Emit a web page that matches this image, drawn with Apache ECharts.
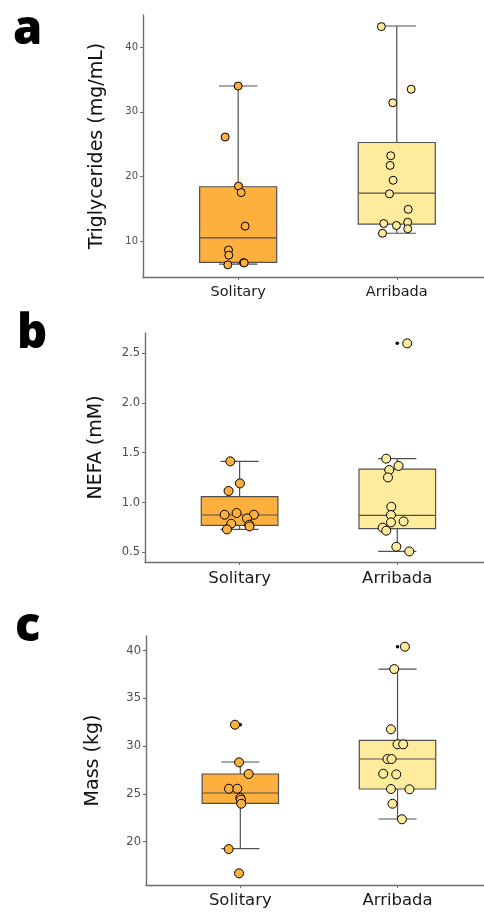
<!DOCTYPE html>
<html><head><meta charset="utf-8">
<script src="https://cdn.jsdelivr.net/npm/echarts@6/dist/echarts.min.js"></script>
<style>html,body{margin:0;padding:0;background:#fff}#c{width:484px;height:914px}</style>
</head><body><div id="c"></div>
<script>
// ---------- data ----------
const categories = ['Solitary', 'Arribada'];
const panelLetters = ['a', 'b', 'c'];
const yTitles = ['Triglycerides (mg/mL)', 'NEFA (mM)', 'Mass (kg)'];
const triTicks = [10, 20, 30, 40];
const nefaTicks = [0.5, 1.0, 1.5, 2.0, 2.5];
const massTicks = [20, 25, 30, 35, 40];

// box stats: [lower whisker, Q1, median, Q3, upper whisker]
const triBoxSolitary = [6.4, 6.7, 10.47, 18.4, 34.0];
const triBoxArribada = [11.2, 12.6, 17.4, 25.25, 43.3];
const nefaBoxSolitary = [0.731, 0.771, 0.875, 1.059, 1.413];
const nefaBoxArribada = [0.51, 0.738, 0.871, 1.336, 1.44];
const massBoxSolitary = [19.27, 24.02, 25.1, 27.09, 28.35];
const massBoxArribada = [22.38, 25.52, 28.66, 30.62, 38.08];

// individual points (value and jittered x position, 1 = Solitary, 2 = Arribada)
const triSolitaryValues = [34.0, 26.1, 18.5, 17.5, 12.3, 8.6, 7.8, 6.65, 6.6, 6.3];
const triSolitaryX = [1.0, 0.918, 1.002, 1.019, 1.044, 0.939, 0.941, 1.034, 1.038, 0.935];
const triArribadaValues = [43.2, 33.5, 31.4, 23.2, 21.7, 19.4, 17.3, 14.9, 12.7, 12.4, 12.9, 11.9, 11.2];
const triArribadaX = [1.903, 2.091, 1.975, 1.962, 1.958, 1.977, 1.954, 2.072, 1.918, 1.998, 2.069, 2.069, 1.910];

const nefaSolitaryValues = [1.413, 1.192, 1.116, 0.878, 0.895, 0.878, 0.841, 0.788, 0.778, 0.761, 0.731];
const nefaSolitaryX = [0.941, 1.002, 0.930, 0.905, 0.981, 1.091, 1.047, 0.947, 1.061, 1.063, 0.920];
const nefaArribadaValues = [2.596, 1.44, 1.367, 1.326, 1.252, 0.958, 0.875, 0.801, 0.811, 0.748, 0.718, 0.557, 0.51];
const nefaArribadaX = [2.063, 1.930, 2.008, 1.949, 1.941, 1.962, 1.960, 1.960, 2.040, 1.907, 1.930, 1.994, 2.076];
const nefaOutliers = [[2, 2.596]];

const massSolitaryValues = [32.25, 28.31, 27.09, 25.55, 25.55, 24.6, 24.4, 23.98, 19.23, 16.69];
const massSolitaryX = [0.966, 0.992, 1.053, 0.928, 0.981, 1.0, 1.004, 1.006, 0.926, 0.992];
const massArribadaValues = [40.42, 38.08, 31.77, 30.2, 30.2, 28.66, 28.66, 27.12, 27.05, 25.52, 25.49, 23.98, 22.35];
const massArribadaX = [2.047, 1.979, 1.958, 2.0, 2.036, 1.936, 1.962, 1.909, 1.992, 1.958, 2.076, 1.968, 2.028];
const massOutliers = [[1, 32.25], [2, 40.42]];

// ---------- style ----------
const SOL = '#FEB03E';
const ARR = '#FFEB9C';
const LINE = '#505050';
const AXIS = '#6e6e6e';
const BOX_HALF = 0.243;
const CAP_HALF = 0.121;

function zip(xs, vs) { return vs.map((v, i) => [xs[i], v]); }

function renderBox(params, api) {
  const x = api.value(0);
  const pLo = api.coord([x, api.value(1)]);
  const pQ1 = api.coord([x, api.value(2)]);
  const pMed = api.coord([x, api.value(3)]);
  const pQ3 = api.coord([x, api.value(4)]);
  const pHi = api.coord([x, api.value(5)]);
  const hb = api.size([BOX_HALF, 0])[0];
  const hc = api.size([CAP_HALF, 0])[0];
  const cx = pMed[0];
  const fill = params.dataIndex === 0 ? SOL : ARR;
  const ls = { stroke: LINE, lineWidth: 1.2, fill: null };
  return {
    type: 'group', children: [
      { type: 'line', shape: { x1: cx, y1: pHi[1], x2: cx, y2: pQ3[1] }, style: ls },
      { type: 'line', shape: { x1: cx, y1: pQ1[1], x2: cx, y2: pLo[1] }, style: ls },
      { type: 'line', shape: { x1: cx - hc, y1: pHi[1], x2: cx + hc, y2: pHi[1] }, style: ls },
      { type: 'line', shape: { x1: cx - hc, y1: pLo[1], x2: cx + hc, y2: pLo[1] }, style: ls },
      { type: 'rect', shape: { x: cx - hb, y: pQ3[1], width: 2 * hb, height: pQ1[1] - pQ3[1] }, style: { fill: fill, stroke: LINE, lineWidth: 1.2 } },
      { type: 'line', shape: { x1: cx - hb, y1: pMed[1], x2: cx + hb, y2: pMed[1] }, style: ls }
    ]
  };
}

const panels = [
  { grid: { left: 143, right: 0, top: 15, bottom: 637 }, ymin: 4.42, ymax: 45.0, ticks: triTicks, fmt: v => String(v),
    tickSize: 10, catSize: 14.5, catMargin: 8, nameGap: 36,
    boxes: [triBoxSolitary, triBoxArribada], sol: zip(triSolitaryX, triSolitaryValues), arr: zip(triArribadaX, triArribadaValues), out: [], sym: 8 },
  { grid: { left: 145, right: 0, top: 333, bottom: 352 }, ymin: 0.404, ymax: 2.70, ticks: nefaTicks, fmt: v => v.toFixed(1),
    tickSize: 11.5, catSize: 16.5, catMargin: 8, nameGap: 39,
    boxes: [nefaBoxSolitary, nefaBoxArribada], sol: zip(nefaSolitaryX, nefaSolitaryValues), arr: zip(nefaArribadaX, nefaArribadaValues), out: nefaOutliers, sym: 9 },
  { grid: { left: 146, right: 0, top: 636, bottom: 29 }, ymin: 15.47, ymax: 41.54, ticks: massTicks, fmt: v => String(v),
    tickSize: 11.5, catSize: 16.5, catMargin: 7, nameGap: 43,
    boxes: [massBoxSolitary, massBoxArribada], sol: zip(massSolitaryX, massSolitaryValues), arr: zip(massArribadaX, massArribadaValues), out: massOutliers, sym: 9 }
];

const option = {
  animation: false,
  backgroundColor: '#fff',
  textStyle: { fontFamily: 'DejaVu Sans' },
  grid: [], xAxis: [], yAxis: [], series: [],
  graphic: [
    { type: 'text', left: 13, top: 7, style: { text: panelLetters[0], font: '800 47px "Open Sans"', fill: '#000' } },
    { type: 'text', left: 17, top: 311, style: { text: panelLetters[1], font: '800 47px "Open Sans"', fill: '#000' } },
    { type: 'text', left: 15, top: 604, style: { text: panelLetters[2], font: '800 47px "Open Sans"', fill: '#000' } }
  ]
};

panels.forEach((p, i) => {
  option.grid.push(p.grid);
  option.xAxis.push({
    type: 'value', gridIndex: i, min: 0.4, max: 2.55,
    splitLine: { show: false },
    axisLine: { show: true, onZero: false, lineStyle: { color: AXIS, width: 1.4 } },
    axisTick: { show: true, length: 3, lineStyle: { color: AXIS }, customValues: [1, 2] },
    axisLabel: { customValues: [1, 2], formatter: v => categories[Math.round(v) - 1], fontSize: p.catSize, color: '#1a1a1a', margin: p.catMargin, fontFamily: 'DejaVu Sans' }
  });
  option.yAxis.push({
    type: 'value', gridIndex: i, min: p.ymin, max: p.ymax,
    name: yTitles[i], nameLocation: 'middle', nameRotate: 90, nameGap: p.nameGap,
    nameTextStyle: { fontSize: 19, color: '#111', fontFamily: 'DejaVu Sans' },
    splitLine: { show: false },
    axisLine: { show: true, onZero: false, lineStyle: { color: AXIS, width: 1.4 } },
    axisTick: { show: true, length: 3, lineStyle: { color: AXIS }, customValues: p.ticks },
    axisLabel: { customValues: p.ticks, formatter: p.fmt, fontSize: p.tickSize, color: '#4d4d4d', margin: 5, fontFamily: 'DejaVu Sans' }
  });
  option.series.push({
    type: 'custom', xAxisIndex: i, yAxisIndex: i, renderItem: renderBox,
    encode: { x: 0, y: [1, 2, 3, 4, 5] },
    data: p.boxes.map((b, k) => [k + 1].concat(b)), z: 1
  });
  option.series.push({
    type: 'scatter', xAxisIndex: i, yAxisIndex: i, data: p.out, symbolSize: 3.5,
    itemStyle: { color: '#000', opacity: 1 }, z: 2
  });
  option.series.push({
    type: 'scatter', xAxisIndex: i, yAxisIndex: i, data: p.sol, symbolSize: p.sym,
    itemStyle: { color: SOL, borderColor: '#000', borderWidth: 1, opacity: 1 }, z: 3
  });
  option.series.push({
    type: 'scatter', xAxisIndex: i, yAxisIndex: i, data: p.arr, symbolSize: p.sym,
    itemStyle: { color: ARR, borderColor: '#000', borderWidth: 1, opacity: 1 }, z: 3
  });
});

const chart = echarts.init(document.getElementById('c'), null, { renderer: 'canvas' });
chart.setOption(option);
</script>
</body></html>
